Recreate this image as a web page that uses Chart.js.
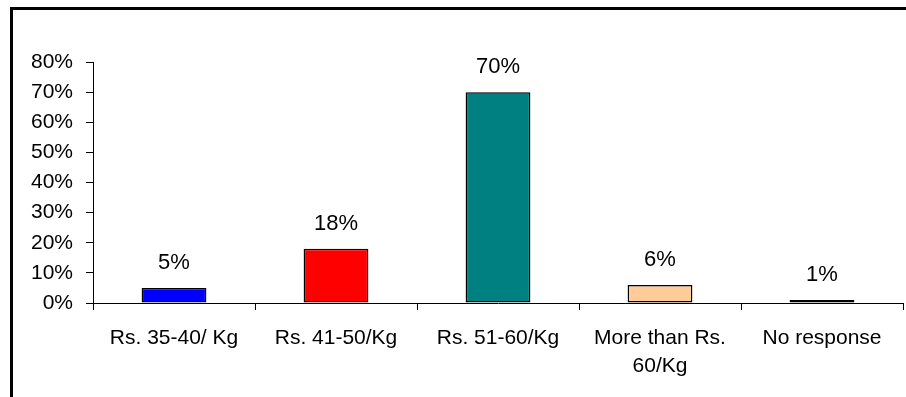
<!DOCTYPE html>
<html>
<head>
<meta charset="utf-8">
<title>Price preference</title>
<script src="https://cdn.jsdelivr.net/npm/chart.js@4/dist/chart.umd.min.js"></script>
<style>
  html, body { margin: 0; padding: 0; background: #fff; overflow: hidden; }
  #marco {
    position: absolute; left: 10px; top: 7px;
    width: 1000px; height: 1000px;
    border-top: 3px solid #000; border-left: 3px solid #000;
  }
  #caja { position: absolute; left: 0; top: 0; width: 906px; height: 397px; }
</style>
</head>
<body>
<div id="marco"></div>
<div id="caja"><canvas id="grafico"></canvas></div>
<script>
// Datos del gráfico
const categorias = ["Rs. 35-40/ Kg", "Rs. 41-50/Kg", "Rs. 51-60/Kg", ["More than Rs.", "60/Kg"], "No response"];
const porcentajes = [5, 18, 70, 6, 1];
const coloresBarra = ["#0000FF", "#FF0000", "#008080", "#FFCC99", "#FFFF99"];
const ticksY = [0, 10, 20, 30, 40, 50, 60, 70, 80];

const fuente = "'Liberation Sans', Arial, sans-serif";

// Etiqueta con el valor encima de cada barra
const etiquetasValor = {
    id: "etiquetasValor",
    afterDatasetsDraw(chart) {
        const ctx = chart.ctx;
        const meta = chart.getDatasetMeta(0);
        ctx.save();
        ctx.font = `22px ${fuente}`;
        ctx.fillStyle = "#000";
        ctx.textAlign = "center";
        ctx.textBaseline = "alphabetic";
        meta.data.forEach((barra, i) => {
            ctx.fillText(porcentajes[i] + "%", barra.x, barra.y - 19);
        });
        ctx.restore();
    }
};

new Chart(document.querySelector("#grafico"), {
    type: "bar",
    data: {
        labels: categorias,
        datasets: [{
            data: porcentajes,
            backgroundColor: coloresBarra,
            borderColor: "#000",
            borderWidth: 1.5,
            borderSkipped: false,
            barPercentage: 0.4,
            categoryPercentage: 1.0
        }]
    },
    options: {
        responsive: true,
        maintainAspectRatio: false,
        animation: false,
        layout: { padding: { top: 62, right: 3, left: 0, bottom: 0 } },
        plugins: {
            legend: { display: false },
            tooltip: { enabled: false }
        },
        scales: {
            x: {
                grid: { display: true, drawOnChartArea: false, drawTicks: true, tickLength: 7, color: "#000", offset: true },
                border: { display: true, color: "#000", width: 1 },
                ticks: {
                    color: "#000",
                    padding: 14,
                    maxRotation: 0,
                    autoSkip: false,
                    font: { family: fuente, size: 21, lineHeight: 1.33 }
                },
                afterFit(scale) { scale.height = 94; }
            },
            y: {
                min: 0,
                max: 80,
                afterBuildTicks(scale) { scale.ticks = ticksY.map(v => ({ value: v })); },
                grid: { display: true, drawOnChartArea: false, drawTicks: true, tickLength: 7, color: "#000" },
                border: { display: true, color: "#000", width: 1 },
                ticks: {
                    color: "#000",
                    padding: 13,
                    font: { family: fuente, size: 21 },
                    callback: v => v + "%"
                },
                afterFit(scale) { scale.width = 93; }
            }
        }
    },
    plugins: [etiquetasValor]
});
</script>
</body>
</html>
